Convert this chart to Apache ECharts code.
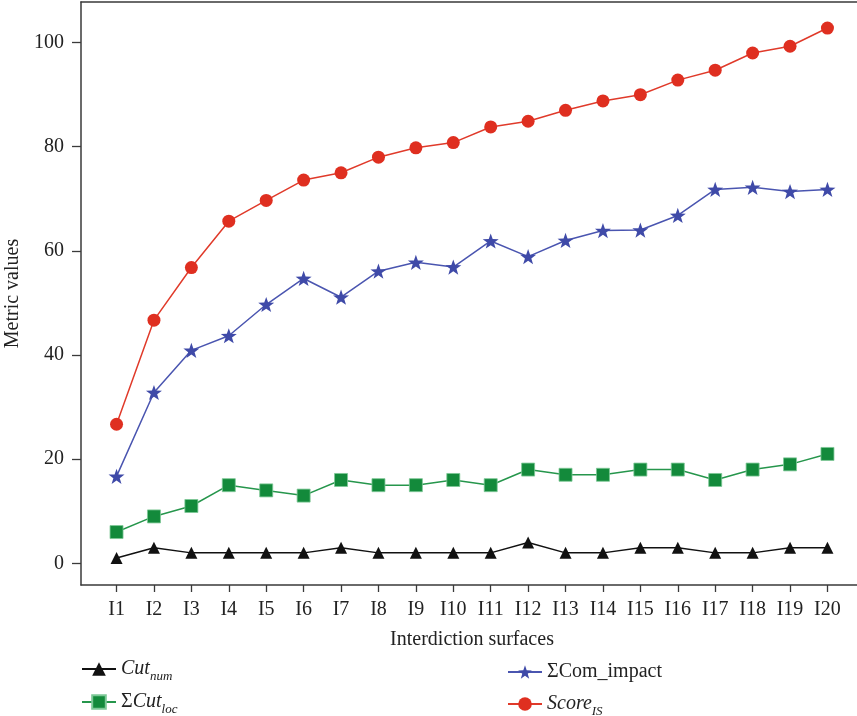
<!DOCTYPE html>
<html>
<head>
<meta charset="utf-8">
<script src="https://cdn.jsdelivr.net/npm/echarts@6/dist/echarts.min.js"></script>
<style>html,body{margin:0;padding:0;background:#fff;}#c{width:857px;height:716px;}</style>
</head>
<body>
<div id="c"></div>
<script>
var categories = ['I1','I2','I3','I4','I5','I6','I7','I8','I9','I10','I11','I12','I13','I14','I15','I16','I17','I18','I19','I20'];
var cutNum = [1,3,2,2,2,2,3,2,2,2,2,4,2,2,3,3,2,2,3,3];
var cutLoc = [6,9,11,15,14,13,16,15,15,16,15,18,17,17,18,18,16,18,19,21];
var comImpact = [16.7,32.8,40.9,43.7,49.7,54.7,51.1,56.1,57.8,56.9,61.9,58.9,62.0,63.9,64.0,66.8,71.8,72.2,71.4,71.8];
var scoreIS = [26.7,46.7,56.8,65.7,69.7,73.6,75.0,78.0,79.8,80.8,83.8,84.9,87.0,88.8,90.0,92.8,94.7,98.0,99.3,102.8];
var yTicks = [0,20,40,60,80,100];
var seriesNames = ['Cut_num','ΣCut_loc','ΣCom_impact','Score_IS'];

var FONT = '"Liberation Serif", "Times New Roman", serif';
var STAR = 'path://M50,0L61.76,33.82L97.55,34.55L69.02,56.18L79.39,90.45L50,70L20.61,90.45L30.98,56.18L2.45,34.55L38.24,33.82Z';

function pairs(arr){ return arr.map(function(v,i){ return [i+1, v]; }); }
var xTickValues = categories.map(function(c,i){ return i+1; });

var richStyles = {
  n: {fontFamily: FONT, fontSize: 20, color: '#222'},
  i: {fontFamily: FONT, fontSize: 20, fontStyle: 'italic', color: '#222'},
  s: {fontFamily: FONT, fontSize: 13, fontStyle: 'italic', color: '#222', padding: [15,0,0,0]}
};
function legendFmt(name){
  if (name === seriesNames[0]) return '{i|Cut}{s|num}';
  if (name === seriesNames[1]) return '{n|Σ}{i|Cut}{s|loc}';
  if (name === seriesNames[2]) return '{n|ΣCom_impact}';
  if (name === seriesNames[3]) return '{i|Score}{s|IS}';
  return name;
}
function legendItem(name, left, top){
  return {data: [name], left: left, top: top, itemWidth: 34, itemHeight: 17, itemGap: 8,
    formatter: legendFmt, textStyle: {rich: richStyles}, padding: 0};
}

var chart = echarts.init(document.getElementById('c'), null, {renderer: 'canvas'});
var axisCol = '#3a3a3a';
chart.setOption({
  animation: false,
  backgroundColor: '#fff',
  grid: {left: 81, right: -6, top: 2, bottom: 131, show: false, outerBoundsMode: 'none', containLabel: false},
  xAxis: [{
    type: 'value', min: 0.05, max: 20.95,
    name: 'Interdiction surfaces', nameLocation: 'middle', nameGap: 45,
    nameTextStyle: {fontFamily: FONT, fontSize: 20, color: '#222'},
    axisLine: {show: true, onZero: false, lineStyle: {color: axisCol, width: 1.5}},
    axisTick: {show: true, length: 7, customValues: xTickValues, lineStyle: {color: axisCol, width: 1.3}},
    axisLabel: {customValues: xTickValues, margin: 15, fontFamily: FONT, fontSize: 20, color: '#222',
      formatter: function(v){ return categories[Math.round(v)-1] || ''; }},
    splitLine: {show: false}
  }, {
    type: 'value', min: 0.05, max: 20.95, position: 'top',
    axisLine: {show: true, onZero: false, lineStyle: {color: axisCol, width: 1.5}},
    axisTick: {show: false}, axisLabel: {show: false}, splitLine: {show: false}
  }],
  yAxis: {
    type: 'value', min: -4.17, max: 107.8,
    name: 'Metric values', nameLocation: 'middle', nameGap: 48, nameRotate: 90,
    nameTextStyle: {fontFamily: FONT, fontSize: 20, color: '#222'},
    axisLine: {show: true, onZero: false, lineStyle: {color: axisCol, width: 1.5}},
    axisTick: {show: true, length: 9, customValues: yTicks, lineStyle: {color: axisCol, width: 1.3}},
    axisLabel: {customValues: yTicks, margin: 17, fontFamily: FONT, fontSize: 20, color: '#222'},
    splitLine: {show: false}
  },
  legend: [
    legendItem(seriesNames[0], 81, 659),
    legendItem(seriesNames[1], 81, 692),
    legendItem(seriesNames[2], 507, 662),
    legendItem(seriesNames[3], 507, 694)
  ],
  series: [
    {name: seriesNames[0], type: 'line', data: pairs(cutNum), symbol: 'triangle', symbolSize: 12,
      itemStyle: {color: '#111'}, lineStyle: {color: '#111', width: 1.5}},
    {name: seriesNames[1], type: 'line', data: pairs(cutLoc), symbol: 'rect', symbolSize: 13,
      itemStyle: {color: '#138a3b', borderColor: '#7cc896', borderWidth: 0.8}, lineStyle: {color: '#26964c', width: 1.5}},
    {name: seriesNames[2], type: 'line', data: pairs(comImpact), symbol: STAR, symbolSize: 16, symbolKeepAspect: true,
      itemStyle: {color: '#3f4aa8'}, lineStyle: {color: '#4a55b0', width: 1.5}},
    {name: seriesNames[3], type: 'line', data: pairs(scoreIS), symbol: 'circle', symbolSize: 13,
      itemStyle: {color: '#df2f20'}, lineStyle: {color: '#e03a2a', width: 1.5}}
  ]
});
</script>
</body>
</html>
